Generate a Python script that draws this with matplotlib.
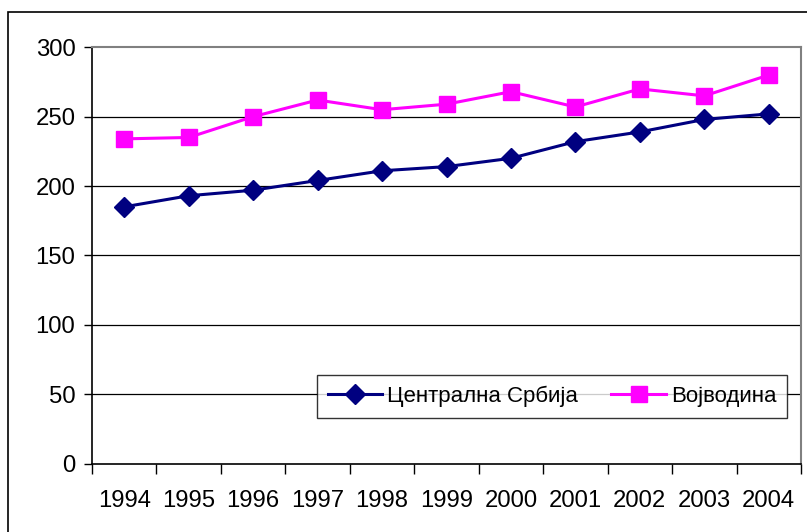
import matplotlib
matplotlib.use("Agg")
import matplotlib.pyplot as plt
from matplotlib.patches import Rectangle

years = ["1994", "1995", "1996", "1997", "1998", "1999", "2000", "2001", "2002", "2003", "2004"]
central_serbia = [185, 193, 197, 204, 211, 214, 220, 232, 239, 248, 252]
vojvodina = [234, 235, 250, 262, 255, 259, 268, 257, 270, 265, 280]
yticks = [0, 50, 100, 150, 200, 250, 300]

plt.rcParams['font.family'] = ['Liberation Sans', 'DejaVu Sans']

W, H = 807, 532
L, R, T, B = 92, 801, 47.3, 463.5
fig = plt.figure(figsize=(W / 100, H / 100), dpi=100)
ax = fig.add_axes([L / W, 1 - B / H, (R - L) / W, (B - T) / H])

# outer chart frame
fig.patches.append(Rectangle((8 / W, -0.1), 1.2, 1 - 12 / H + 0.1, transform=fig.transFigure,
                             fill=False, edgecolor='black', linewidth=1.2, zorder=0))

x = list(range(len(years)))
ax.plot(x, central_serbia, color='#000080', marker='D', markersize=10.5, linewidth=2.2,
        label='Централна Србија', zorder=3)
ax.plot(x, vojvodina, color='#FF00FF', marker='s', markersize=11, linewidth=2.2,
        label='Војводина', zorder=3)

ax.set_xlim(-0.5, len(years) - 0.5)
ax.set_ylim(0, 300)
ax.set_yticks(yticks)
ax.set_xticks(x)
ax.set_xticklabels(years)
ax.set_xticks([i - 0.5 for i in range(len(years) + 1)], minor=True)
ax.tick_params(axis='x', which='major', length=0, pad=19, labelsize=17.2)
ax.tick_params(axis='x', which='minor', length=7, width=1, color='black')
ax.tick_params(axis='y', length=6, width=1, labelsize=17.2, pad=6)

for v in yticks[1:-1]:
    ax.axhline(v, color='black', linewidth=0.9, zorder=1)

for s in ['top', 'right']:
    ax.spines[s].set_color('#808080')
    ax.spines[s].set_linewidth(1.5)
for s in ['left', 'bottom']:
    ax.spines[s].set_color('black')
    ax.spines[s].set_linewidth(1.2)

cx = ((317 + 787) / 2 - L) / (R - L)
cy = (B - (375 + 418) / 2) / (B - T)
leg = ax.legend(loc='center', bbox_to_anchor=(cx, cy), ncol=2, frameon=True, fancybox=False,
                fontsize=16, handlelength=2.45, handletextpad=0.22, columnspacing=1.5,
                borderaxespad=0, borderpad=0.5, markerscale=1.0)
leg.get_frame().set_edgecolor('black')
leg.get_frame().set_linewidth(1.0)

fig.savefig('out.png', dpi=100)
